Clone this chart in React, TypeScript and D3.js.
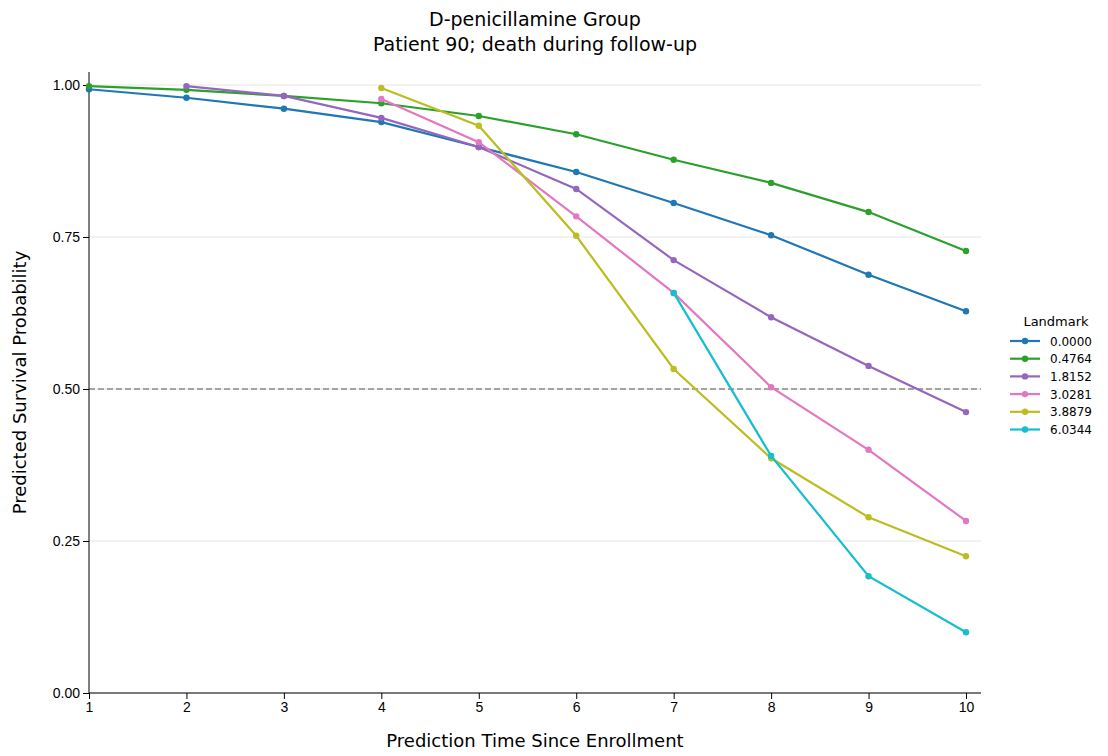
import { useEffect, useRef } from 'react'
import * as d3 from 'd3'

const times = [1, 2, 3, 4, 5, 6, 7, 8, 9, 10]
const landmarks = ['0.0000', '0.4764', '1.8152', '3.0281', '3.8879', '6.0344']
const colors = ['#1f77b4', '#2ca02c', '#9467bd', '#e377c2', '#bcbd22', '#17becf']
const s0 = [0.993, 0.979, 0.961, 0.939, 0.898, 0.857, 0.806, 0.753, 0.688, 0.628]
const s1 = [0.998, 0.992, 0.982, 0.970, 0.949, 0.919, 0.877, 0.839, 0.791, 0.727]
const s2 = [null, 0.998, 0.982, 0.946, 0.898, 0.829, 0.712, 0.618, 0.538, 0.462]
const s3 = [null, null, null, 0.977, 0.906, 0.784, 0.658, 0.503, 0.400, 0.283]
const s4 = [null, null, null, 0.995, 0.933, 0.752, 0.533, 0.386, 0.289, 0.225]
const s5 = [null, null, null, null, null, null, 0.658, 0.390, 0.192, 0.100]
const series = [s0, s1, s2, s3, s4, s5]
const yTicks = [0, 0.25, 0.5, 0.75, 1]

export default function App() {
  const ref = useRef<SVGSVGElement>(null)
  useEffect(() => {
    const svg = d3.select(ref.current)
    svg.selectAll('*').remove()
    const W = 1108, H = 756
    const L = 89, R = 981, T = 72, B = 693
    svg.attr('width', W).attr('height', H).style('font-family', 'DejaVu Sans, sans-serif')
    const x = d3.scaleLinear().domain([1, 10]).range([L, 966])
    const y = d3.scaleLinear().domain([0, 1]).range([B, 85])

    svg.append('g').selectAll('line').data(yTicks).enter().append('line')
      .attr('x1', L).attr('x2', R).attr('y1', d => y(d)).attr('y2', d => y(d))
      .attr('stroke', '#e6e6e6').attr('stroke-width', 1)
    svg.append('line').attr('x1', L).attr('x2', R).attr('y1', y(0.5)).attr('y2', y(0.5))
      .attr('stroke', '#555').attr('stroke-dasharray', '6,3').attr('stroke-width', 1.2)

    const xa = svg.append('g').attr('transform', `translate(0,${B})`)
      .call(d3.axisBottom(x).tickValues(times).tickFormat(d3.format('d')).tickSizeOuter(0))
    xa.select('.domain').attr('d', `M${L},0H${R}`)
    const ya = svg.append('g').attr('transform', `translate(${L},0)`)
      .call(d3.axisLeft(y).tickValues(yTicks).tickFormat(d3.format('.2f')).tickSizeOuter(0))
    ya.select('.domain').attr('d', `M0,${B}V${T}`)
    svg.selectAll('.tick text').attr('font-size', 14).attr('fill', '#000')
    svg.selectAll('.domain').attr('stroke', '#000')

    const line = d3.line<[number, number | null]>()
      .defined(d => d[1] != null).x(d => x(d[0])).y(d => y(d[1] as number))
    series.forEach((s, i) => {
      const pts = times.map((t, j) => [t, s[j]] as [number, number | null])
      svg.append('path').datum(pts).attr('d', line).attr('fill', 'none')
        .attr('stroke', colors[i]).attr('stroke-width', 2.2)
      svg.append('g').selectAll('circle').data(pts.filter(p => p[1] != null)).enter()
        .append('circle').attr('cx', d => x(d[0])).attr('cy', d => y(d[1] as number))
        .attr('r', 3.2).attr('fill', colors[i])
    })

    svg.append('text').attr('x', 535).attr('y', 26).attr('text-anchor', 'middle')
      .attr('font-size', 19).text('D-penicillamine Group')
    svg.append('text').attr('x', 535).attr('y', 51).attr('text-anchor', 'middle')
      .attr('font-size', 19).text('Patient 90; death during follow-up')
    svg.append('text').attr('x', 535).attr('y', 747).attr('text-anchor', 'middle')
      .attr('font-size', 18).text('Prediction Time Since Enrollment')
    svg.append('text').attr('transform', `translate(26,${(T + B) / 2}) rotate(-90)`)
      .attr('text-anchor', 'middle').attr('font-size', 18).text('Predicted Survival Probability')

    const lg = svg.append('g').attr('transform', 'translate(1010,0)')
    lg.append('text').attr('x', 46).attr('y', 326).attr('text-anchor', 'middle')
      .attr('font-size', 13).text('Landmark')
    landmarks.forEach((lab, i) => {
      const yy = 341 + i * 17.7
      lg.append('line').attr('x1', 0).attr('x2', 30).attr('y1', yy).attr('y2', yy)
        .attr('stroke', colors[i]).attr('stroke-width', 2.2)
      lg.append('circle').attr('cx', 15).attr('cy', yy).attr('r', 3.2).attr('fill', colors[i])
      lg.append('text').attr('x', 40).attr('y', yy + 4.5).attr('font-size', 12).text(lab)
    })
  }, [])
  return <svg ref={ref} style={{ position: 'absolute', left: 0, top: 0 }} />
}
